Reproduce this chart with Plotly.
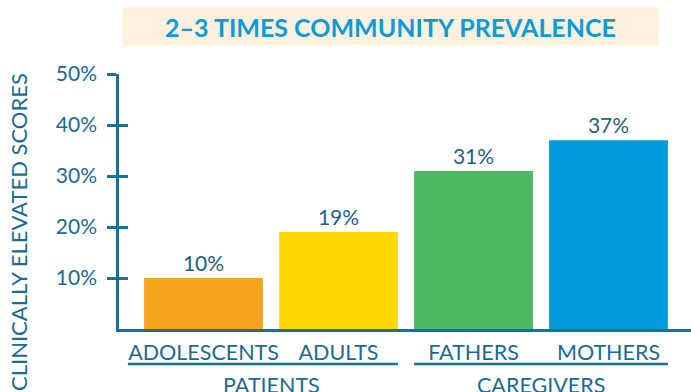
import plotly.graph_objects as go

categories = ["ADOLESCENTS", "ADULTS", "FATHERS", "MOTHERS"]
values = [10, 19, 31, 37]
groups = ["PATIENTS", "CAREGIVERS"]
group_members = [[0, 1], [2, 3]]
y_ticks = [10, 20, 30, 40, 50]
title_text = "2–3 TIMES COMMUNITY PREVALENCE"
y_title = "CLINICALLY ELEVATED SCORES"

bar_colors = ["#f6a41f", "#fdd900", "#4cb963", "#039bdb"]
axis_color = "#17709a"
text_color = "#1b6a93"
FONT = "Lato"

x = list(range(len(categories)))
W, H = 691, 392
ml, mr, mt, mb = 119, 0, 74, 63
pitch = 135.0
first_center = 203.5
xr = [(ml - first_center) / pitch, (W - mr - first_center) / pitch]
ph = H - mt - mb

fig = go.Figure()
fig.add_trace(go.Bar(
    x=x, y=values, width=0.88, marker=dict(color=bar_colors, line=dict(width=0)),
    text=[f"{v}%" for v in values], textposition="outside", cliponaxis=False,
    textfont=dict(family=FONT, size=21, color="#235f82"), hoverinfo="skip",
))
# invisible trace for the overlaid axis with inner ticks
fig.add_trace(go.Scatter(x=[x[0]], y=[0], yaxis="y2", mode="markers",
                         marker=dict(opacity=0), hoverinfo="skip", showlegend=False))

fig.update_layout(
    width=W, height=H, margin=dict(l=ml, r=mr, t=mt, b=mb),
    paper_bgcolor="white", plot_bgcolor="white", showlegend=False,
    xaxis=dict(range=xr, tickmode="array", tickvals=x, ticktext=categories,
               showline=True, linecolor=axis_color, linewidth=2.5,
               showgrid=False, zeroline=False, ticks="", ticklabelstandoff=2,
               tickfont=dict(family=FONT, size=21.5, color=text_color)),
    yaxis=dict(range=[0, 50], tickmode="array", tickvals=y_ticks,
               ticktext=[f"{t}%" for t in y_ticks],
               showline=True, linecolor=axis_color, linewidth=2.5,
               ticks="outside", ticklen=9, tickwidth=2.5, tickcolor=axis_color,
               ticklabelstandoff=6,
               showgrid=False, zeroline=False,
               tickfont=dict(family=FONT, size=21, color=text_color)),
    yaxis2=dict(range=[0, 50], overlaying="y", side="left", tickmode="array",
                tickvals=y_ticks, ticks="inside", ticklen=9, tickwidth=2.5,
                tickcolor=axis_color, showticklabels=False, showline=False,
                showgrid=False, zeroline=False),
)

# title box
fig.add_annotation(xref="paper", yref="paper", x=(390.5 - ml) / (W - ml - mr),
                   y=1 + (mt - 26.5) / ph, xanchor="center", yanchor="middle",
                   text=f"<b>{title_text}</b>", showarrow=False,
                   font=dict(family=FONT, size=25, color="#0a9bd9"),
                   bgcolor="#fdf0dd", width=533, height=35)

# y axis title
fig.add_annotation(xref="paper", yref="paper", x=-(ml - 18) / (W - ml - mr),
                   y=(H - mb - 232) / ph,
                   xanchor="center", yanchor="middle", textangle=-90,
                   text=y_title, showarrow=False,
                   font=dict(family=FONT, size=22, color=text_color))

# group lines and labels
pads = [(0.56, 0.44), (0.44, 0.44)]
for g, members, (pl, pr) in zip(groups, group_members, pads):
    x0 = min(members) - pl
    x1 = max(members) + pr
    fig.add_shape(type="line", xref="x", yref="paper", x0=x0, x1=x1,
                  y0=-(364 - (H - mb)) / ph, y1=-(364 - (H - mb)) / ph,
                  line=dict(color=axis_color, width=2.5))
    fig.add_annotation(xref="x", yref="paper", x=(min(members) + max(members)) / 2,
                       y=-(385 - (H - mb)) / ph, xanchor="center", yanchor="middle",
                       text=g, showarrow=False,
                       font=dict(family=FONT, size=21.5, color=text_color))

fig.write_html("out.html")
